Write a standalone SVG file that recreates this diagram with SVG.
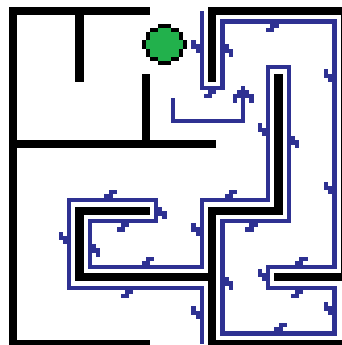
<svg xmlns="http://www.w3.org/2000/svg" width="342" height="345" viewBox="0 0 342 345" shape-rendering="crispEdges">
<style>
.wall{fill:#000}
.route{fill:none;stroke:#2E3192;stroke-width:4;stroke-linejoin:miter}
.wide{stroke-width:5}
.mark{fill:#2E3192}
.black{fill:#000}
.green{fill:#22B14C}
</style>
<rect width="342" height="345" fill="#fff"/>
<g id="walls">
<path class="wall" d="M9 7H150V15H84V82H75V15H17V140H142V74H150V140H216V148H17V340H150V345H9Z"/>
<path class="wall" d="M208 7H342V15H216V82H208Z"/>
<path class="wall" d="M274 74H283V215H216V273H274V273H342V281H274V273H216V340H342V345H208V281H75V207H150V215H84V273H208V207H274Z"/>
<rect class="wall" x="341" y="15" width="1" height="258"/>
</g>
<g id="goal">
<path class="black" d="M158 24H171V28H179V32H183V40H187V49H183V57H179V61H171V65H158V61H150V57H146V49H142V40H146V32H150V28H158Z"/>
<path class="green" d="M158 28H171V32H179V40H183V49H179V57H171V61H158V57H150V49H146V40H150V32H158Z"/>
</g>
<g id="connectors">
<path class="route" d="M202 11V88H225"/>
<path class="route wide" d="M222.5 90V21.5H334.5V269"/>
<path class="route" d="M337 267H268V288H337"/>
<path class="route wide" d="M334.5 286V333.5H222.5V219"/>
<path class="route" d="M220 221H289V67H268V200H202V267H90V221H156V200H69V288H202V344"/>
<path class="route" d="M173 98V121H243V90"/>
<path class="mark" d="M241 86H245V90H249V94H254V103H249V98H245V103H241V98H237V103H233V94H237V90H241Z"/>
<path class="mark" d="M270 23H279V28H274V32H266V28H270Z"/>
<path class="mark" d="M191 40H196V44H200V53H196V49H191Z"/>
<path class="mark" d="M225 44H229V49H233V57H229V53H225Z"/>
<path class="mark" d="M208 90H216V94H212V98H204V94H208Z"/>
<path class="mark" d="M324 69H328V74H333V82H328V78H324Z"/>
<path class="mark" d="M258 123H262V128H266V136H262V132H258Z"/>
<path class="mark" d="M291 136H295V140H299V148H295V145H291Z"/>
<path class="mark" d="M109 190H117V194H113V198H104V194H109Z"/>
<path class="mark" d="M158 207H162V211H167V219H162V216H158Z"/>
<path class="mark" d="M121 223H129V227H125V232H117V227H121Z"/>
<path class="mark" d="M59 232H63V236H67V244H63V240H59Z"/>
<path class="mark" d="M92 244H96V248H100V257H96V253H92Z"/>
<path class="mark" d="M146 257H154V261H150V265H142V261H146Z"/>
<path class="mark" d="M125 290H133V294H129V298H121V294H125Z"/>
<path class="mark" d="M229 190H237V194H233V198H225V194H229Z"/>
<path class="mark" d="M191 223H196V227H200V236H196V232H191Z"/>
<path class="mark" d="M249 223H258V227H254V232H245V227H249Z"/>
<path class="mark" d="M324 182H328V186H333V194H328V190H324Z"/>
<path class="mark" d="M299 257H308V261H303V265H295V261H299Z"/>
<path class="mark" d="M258 269H262V273H266V281H262V277H258Z"/>
<path class="mark" d="M225 277H229V281H233V290H229V286H225Z"/>
<path class="mark" d="M295 290H303V294H299V298H291V294H295Z"/>
<path class="mark" d="M324 302H328V306H333V315H328V311H324Z"/>
<path class="mark" d="M279 323H287V327H283V332H274V327H279Z"/>
<path class="mark" d="M191 306H196V311H200V319H196V315H191Z"/>
</g>
</svg>
